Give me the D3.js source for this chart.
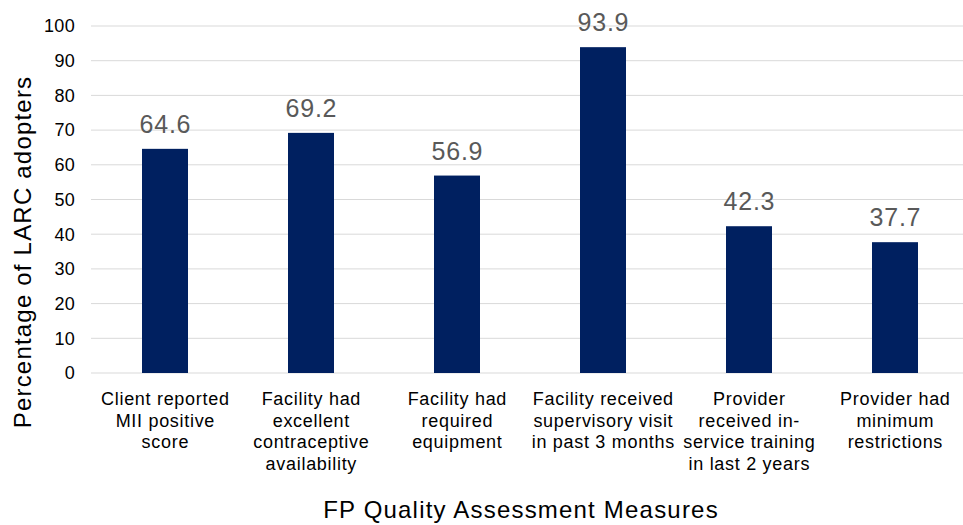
<!DOCTYPE html>
<html><head><meta charset="utf-8">
<script src="https://cdn.jsdelivr.net/npm/d3@7"></script>
<style>body{margin:0;background:#fff}svg{display:block}</style>
</head><body>
<svg id="chart" width="963" height="525"></svg>
<script>
const categories = [
  ["Client reported","MII positive","score"],
  ["Facility had","excellent","contraceptive","availability"],
  ["Facility had","required","equipment"],
  ["Facility received","supervisory visit","in past 3 months"],
  ["Provider","received in-","service training","in last 2 years"],
  ["Provider had","minimum","restrictions"]
];
const values = [64.6, 69.2, 56.9, 93.9, 42.3, 37.7];
const yTicks = [0,10,20,30,40,50,60,70,80,90,100];
const yTitle = "Percentage of LARC adopters";
const xTitle = "FP Quality Assessment Measures";

const svg = d3.select("#chart");
const font = "Arial, 'Liberation Sans', sans-serif";
const x = d3.scaleBand().domain(d3.range(categories.length)).range([92, 968]).paddingInner(0.685).paddingOuter(0.3425);
const y = d3.scaleLinear().domain([0,100]).range([373, 26]);

// gridlines
svg.append("g").selectAll("line").data(yTicks).join("line")
  .attr("x1", 91).attr("x2", 963)
  .attr("y1", d => y(d)).attr("y2", d => y(d))
  .attr("stroke", "#d9d9d9").attr("stroke-width", 1);

// y tick labels
svg.append("g").selectAll("text").data(yTicks).join("text")
  .attr("x", 75).attr("y", d => y(d)).attr("dy", "0.35em")
  .attr("text-anchor", "end").attr("font-family", font).attr("font-size", 18)
  .attr("letter-spacing", 0.3)
  .attr("fill", "#000").text(d => d);

// bars
svg.append("g").selectAll("rect").data(values).join("rect")
  .attr("x", (d,i) => x(i)).attr("width", x.bandwidth())
  .attr("y", d => y(d)).attr("height", d => y(0) - y(d))
  .attr("fill", "#002060");

// value labels
svg.append("g").selectAll("text").data(values).join("text")
  .attr("x", (d,i) => x(i) + x.bandwidth()/2 + 0.4).attr("y", d => y(d) - 16)
  .attr("text-anchor", "middle").attr("font-family", font).attr("font-size", 25)
  .attr("letter-spacing", 0.8)
  .attr("fill", "#595959").text(d => d.toFixed(1));

// category labels
const cg = svg.append("g").selectAll("text").data(categories).join("text")
  .attr("text-anchor", "middle").attr("font-family", font).attr("font-size", 18)
  .attr("letter-spacing", 0.7)
  .attr("fill", "#000");
cg.each(function(lines, i){
  d3.select(this).selectAll("tspan").data(lines).join("tspan")
    .attr("x", x(i) + x.bandwidth()/2 + 0.35)
    .attr("y", (l, j) => 405 + j*21.7)
    .text(l => l);
});

// axis titles
svg.append("text").attr("transform", "translate(31,252) rotate(-90)")
  .attr("text-anchor", "middle").attr("font-family", font).attr("font-size", 24)
  .attr("letter-spacing", 1.2)
  .attr("fill", "#000").text(yTitle);
svg.append("text").attr("x", 521).attr("y", 518)
  .attr("text-anchor", "middle").attr("font-family", font).attr("font-size", 24)
  .attr("letter-spacing", 1.2)
  .attr("fill", "#000").text(xTitle);
</script>
</body></html>
